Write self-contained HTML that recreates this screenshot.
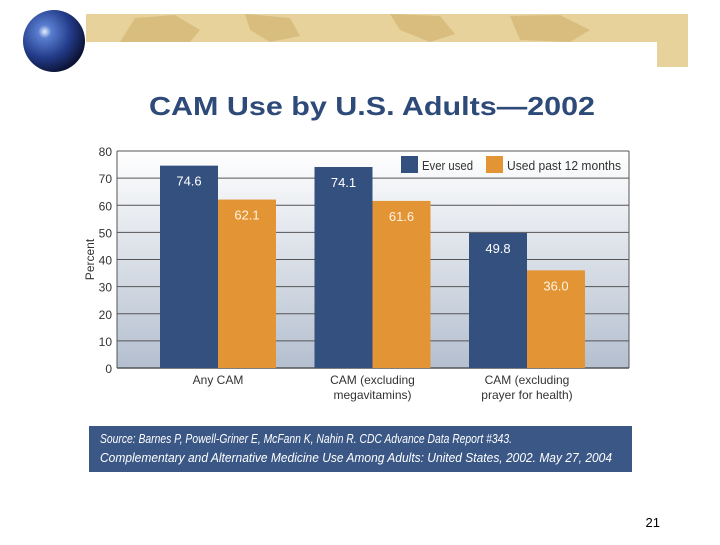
<!DOCTYPE html>
<html><head><meta charset="utf-8"><style>
html,body{margin:0;padding:0;background:#fff;}
body{width:720px;height:540px;overflow:hidden;font-family:"Liberation Sans",sans-serif;}
</style></head><body>
<svg width="720" height="540" viewBox="0 0 720 540" xmlns="http://www.w3.org/2000/svg">
<defs>
<radialGradient id="globe" cx="0.35" cy="0.35" r="0.7">
<stop offset="0" stop-color="#e8f0ff"/><stop offset="0.15" stop-color="#5a7ed0"/><stop offset="0.6" stop-color="#233c8a"/><stop offset="1" stop-color="#0a1030"/>
</radialGradient>
<linearGradient id="plotbg" x1="0" y1="0" x2="0" y2="1">
<stop offset="0" stop-color="#ffffff"/><stop offset="1" stop-color="#b4bfcf"/>
</linearGradient>
</defs>
<g>
<rect x="86" y="14" width="602" height="28" fill="#e6d29a"/>
<rect x="657" y="42" width="31" height="25" fill="#e6d29a"/>
<path d="M120 42 L135 18 L175 15 L200 30 L190 42Z M245 14 L290 18 L300 36 L270 42 L250 30Z M390 14 L440 16 L455 34 L430 42 L400 30Z M510 16 L560 15 L590 30 L570 42 L520 40Z" fill="#d4b878" opacity="0.8"/>
<circle cx="54" cy="41" r="31" fill="url(#globe)"/>
</g>
<text x="372" y="115" text-anchor="middle" font-size="26" font-weight="bold" fill="#2d4a78" textLength="446" lengthAdjust="spacingAndGlyphs">CAM Use by U.S. Adults—2002</text>
<g id="chart"></g>
<g>
<rect x="89" y="426" width="543" height="46" fill="#3a5786"/>
<text x="100" y="443" font-size="13" font-style="italic" fill="#fff" textLength="412" lengthAdjust="spacingAndGlyphs">Source: Barnes P, Powell-Griner E, McFann K, Nahin R. CDC Advance Data Report #343.</text>
<text x="100" y="462" font-size="13" font-style="italic" fill="#fff" textLength="512" lengthAdjust="spacingAndGlyphs">Complementary and Alternative Medicine Use Among Adults: United States, 2002. May 27, 2004</text>
</g>
<text x="660" y="527" text-anchor="end" font-size="13" fill="#000">21</text>
</svg>
<script>
const categories = [["Any CAM"],["CAM (excluding","megavitamins)"],["CAM (excluding","prayer for health)"]];
const everUsed = [74.6, 74.1, 49.8];
const pastYear = [62.1, 61.6, 36.0];
const yTicks = [0,10,20,30,40,50,60,70,80];
const seriesNames = ["Ever used","Used past 12 months"];

const NS="http://www.w3.org/2000/svg";
const g=document.getElementById('chart');
const L=117,R=629,T=151,B=368,yMax=80;
const y=v=>B-(v/yMax)*(B-T);
const cx=i=>L+101+154.5*i;
const barW=58;
function mk(tag,attrs,parent){const e=document.createElementNS(NS,tag);for(const k in attrs)e.setAttribute(k,attrs[k]);(parent||g).appendChild(e);return e;}
const bg=mk('rect',{x:L,y:T,width:R-L,height:B-T,fill:'url(#plotbg)'});


yTicks.forEach(t=>{
  const ln=mk('line',{x1:L,x2:R,y1:y(t),y2:y(t),stroke:'#555','stroke-width':t===0?1.5:1});
  
  
  const tx=mk('text',{x:L-5,y:y(t)+5,'text-anchor':'end','font-size':12,fill:'#333'});
  tx.textContent=t;
  
  
});
mk('line',{x1:L,x2:L,y1:T,y2:B,stroke:'#555'});
mk('line',{x1:R,x2:R,y1:T,y2:B,stroke:'#555'});
const yt=mk('text',{x:94,y:(T+B)/2,'text-anchor':'middle','font-size':12,fill:'#333',transform:`rotate(-90 94 ${(T+B)/2})`});
yt.textContent='Percent';


const cols=['#34507f','#e39435'];
[everUsed,pastYear].forEach((s,si)=>{
  s.forEach((v,i)=>{
    const x=cx(i)-barW+si*barW;
    const r=mk('rect',{x:x,y:y(v),width:barW,height:B-y(v),fill:cols[si]});
    
    
    const tx=mk('text',{x:x+barW/2,y:y(v)+20,'text-anchor':'middle','font-size':13,fill:si?'#fff4e0':'#fff'});
    tx.textContent=v.toFixed(1);
    
    
  });
});
categories.forEach((c,i)=>{
  c.forEach((line,j)=>{
    const tx=mk('text',{x:cx(i),y:B+16+j*15,'text-anchor':'middle','font-size':12,fill:'#333'});
    tx.textContent=line;
    
    
  });
});
[[401,'Ever used',51],[486,'Used past 12 months',114]].forEach((e,i)=>{
  const sw=mk('rect',{x:e[0],y:156,width:17,height:17,fill:cols[i]});
  
  
  const tx=mk('text',{x:e[0]+21,y:170,'font-size':13,fill:'#333',textLength:e[2],lengthAdjust:'spacingAndGlyphs'});
  tx.textContent=seriesNames[i];
  
  
});
</script>
</body></html>
